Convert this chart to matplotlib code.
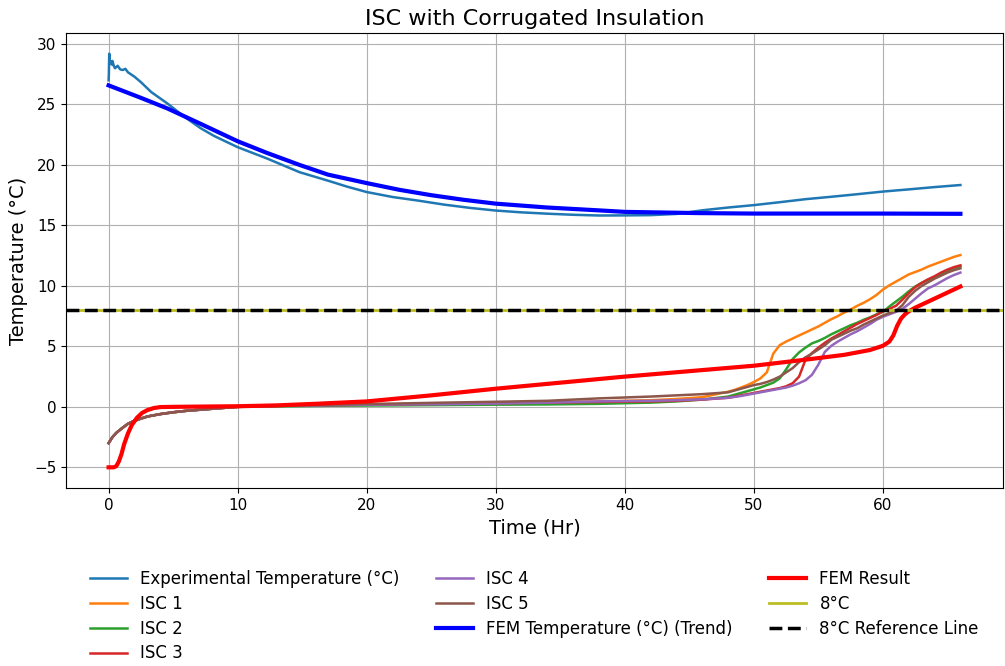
import matplotlib
matplotlib.use("Agg")
import matplotlib.pyplot as plt

# ---------------- data ----------------
exp_time = [0, 0.02, 0.05, 0.1, 0.15, 0.25, 0.3, 0.4, 0.5, 0.7, 0.9, 1.1, 1.3, 1.5,
            2.0, 2.5, 3.3, 4.56, 5.85, 7.13, 8.17, 10, 12.26, 14.8, 17, 18.5, 20, 22,
            24, 26, 28, 30, 32, 34, 36, 38, 40, 42, 44, 46, 48, 50, 52, 54, 56, 58,
            60, 62, 64, 66]
exp_temp = [27.0, 27.5, 29.2, 28.4, 28.6, 28.3, 28.6, 28.2, 28.0, 28.2, 27.9, 27.85,
            27.95, 27.66, 27.3, 26.85, 26.03, 25.08, 24.0, 23.04, 22.4, 21.47, 20.54,
            19.4, 18.7, 18.2, 17.76, 17.35, 17.05, 16.72, 16.45, 16.23, 16.08, 15.97,
            15.88, 15.82, 15.83, 15.85, 15.95, 16.25, 16.48, 16.68, 16.92, 17.17,
            17.37, 17.58, 17.8, 17.98, 18.17, 18.34]

isc_time = [0, 0.3, 0.6, 1, 1.5, 2, 3, 4, 5, 6, 8, 10, 14, 18, 22, 26, 30, 34, 38,
            42, 44, 46, 48, 48.5, 49, 49.5, 50, 50.5, 51, 51.5, 52, 52.5, 53, 53.5,
            54, 54.5, 55, 55.5, 56, 56.5, 57, 57.5, 58, 58.5, 59, 59.5, 60, 60.5, 61,
            61.5, 62, 62.5, 63, 63.5, 64, 64.5, 65, 65.5, 66]
isc_start = [-3.0, -2.5, -2.15, -1.8, -1.4, -1.15, -0.8, -0.6, -0.45, -0.33, -0.16, 0.0]

isc1 = isc_start + [0.1, 0.15, 0.2, 0.25, 0.3, 0.35, 0.45, 0.55, 0.65, 0.8,
        1.25, 1.4, 1.6, 1.8, 2.05, 2.35, 2.85, 4.4, 5.1, 5.4, 5.65, 5.9, 6.15, 6.4,
        6.65, 6.95, 7.25, 7.5, 7.8, 8.05, 8.35, 8.6, 8.9, 9.25, 9.7, 10.05, 10.35,
        10.65, 10.95, 11.15, 11.35, 11.6, 11.8, 12.0, 12.2, 12.4, 12.55]
isc2 = isc_start + [0.05, 0.1, 0.12, 0.15, 0.18, 0.2, 0.25, 0.35, 0.45, 0.6,
        0.85, 1.0, 1.15, 1.3, 1.45, 1.6, 1.8, 2.0, 2.35, 3.1, 3.95, 4.5, 4.9, 5.25,
        5.45, 5.7, 6.0, 6.25, 6.5, 6.75, 6.95, 7.2, 7.4, 7.65, 7.85, 8.3, 8.7, 9.1,
        9.55, 9.95, 10.25, 10.5, 10.7, 10.95, 11.2, 11.45, 11.6]
isc3 = isc_start + [0.1, 0.15, 0.2, 0.25, 0.3, 0.35, 0.4, 0.45, 0.5, 0.6,
        0.75, 0.85, 0.95, 1.05, 1.15, 1.25, 1.35, 1.45, 1.55, 1.7, 1.95, 2.5, 3.9,
        4.45, 4.9, 5.3, 5.65, 5.95, 6.25, 6.55, 6.85, 7.1, 7.35, 7.6, 7.9, 8.1, 8.35,
        8.85, 9.4, 9.9, 10.25, 10.55, 10.8, 11.1, 11.35, 11.55, 11.7]
isc4 = isc_start + [0.1, 0.15, 0.2, 0.22, 0.28, 0.35, 0.45, 0.5, 0.55, 0.62,
        0.75, 0.82, 0.9, 1.0, 1.1, 1.2, 1.3, 1.4, 1.5, 1.6, 1.75, 1.95, 2.2, 2.65,
        3.5, 4.55, 5.05, 5.4, 5.7, 6.0, 6.25, 6.55, 6.85, 7.2, 7.45, 7.65, 7.85, 8.1,
        8.5, 8.95, 9.4, 9.8, 10.05, 10.35, 10.65, 10.9, 11.1]
isc5 = isc_start + [0.12, 0.2, 0.27, 0.35, 0.42, 0.5, 0.7, 0.85, 0.95, 1.05,
        1.2, 1.35, 1.5, 1.65, 1.8, 1.9, 2.05, 2.25, 2.5, 2.85, 3.2, 3.7, 4.1, 4.4,
        4.75, 5.1, 5.55, 5.8, 6.05, 6.3, 6.5, 6.8, 7.05, 7.3, 7.55, 7.75, 7.95, 8.4,
        9.1, 9.6, 10.0, 10.3, 10.6, 10.85, 11.1, 11.3, 11.45]

trend_time = [0, 2.5, 4.56, 7.13, 10, 12.26, 14.8, 17, 20, 22.5, 25, 27.5, 30, 34,
              37.9, 40, 45.7, 50, 55, 60, 66]
trend_temp = [26.58, 25.55, 24.67, 23.4, 21.96, 21.0, 20.0, 19.2, 18.5, 17.95, 17.5,
              17.12, 16.8, 16.48, 16.25, 16.12, 16.02, 15.98, 15.98, 15.98, 15.96]

fem_time = [0, 0.4, 0.6, 0.8, 1.0, 1.2, 1.5, 1.8, 2.2, 2.6, 3.0, 3.5, 4.0, 5, 7, 10,
            13, 16, 20, 25, 30, 35, 40, 45, 50, 54, 57, 59, 60, 60.5, 60.8, 61.1,
            61.4, 61.7, 62, 62.5, 63, 64, 65, 66]
fem_temp = [-5.0, -5.0, -4.9, -4.5, -3.9, -3.1, -2.2, -1.5, -0.9, -0.5, -0.27, -0.1,
            -0.02, 0.0, 0.02, 0.05, 0.12, 0.25, 0.45, 0.95, 1.5, 2.0, 2.5, 2.95, 3.4,
            3.9, 4.3, 4.7, 5.05, 5.4, 5.9, 6.7, 7.3, 7.65, 7.9, 8.2, 8.45, 8.95, 9.45,
            9.95]

ref_temp = 8

# ---------------- plot ----------------
fig = plt.figure(figsize=(10.05, 6.66), dpi=100)
ax = fig.add_axes([66/1005, 1-488/666, (1003-66)/1005, (488-33)/666])

ax.plot(exp_time, exp_temp, color='tab:blue', lw=1.8, label='Experimental Temperature (°C)')
ax.plot(isc_time, isc1, color='tab:orange', lw=1.8, label='ISC 1')
ax.plot(isc_time, isc2, color='tab:green', lw=1.8, label='ISC 2')
ax.plot(isc_time, isc3, color='tab:red', lw=1.8, label='ISC 3')
ax.plot(isc_time, isc4, color='tab:purple', lw=1.8, label='ISC 4')
ax.plot(isc_time, isc5, color='tab:brown', lw=1.8, label='ISC 5')
ax.plot(trend_time, trend_temp, color='blue', lw=3, label='FEM Temperature (°C) (Trend)')
ax.plot(fem_time, fem_temp, color='red', lw=3, label='FEM Result')
ax.axhline(ref_temp, color='tab:olive', lw=2, label='8°C')
ax.axhline(ref_temp, color='black', lw=2.5, ls='--', label='8°C Reference Line')

ax.set_title('ISC with Corrugated Insulation', fontsize=16)
ax.set_xlabel('Time (Hr)', fontsize=14)
ax.set_ylabel('Temperature (°C)', fontsize=14)
ax.tick_params(labelsize=11)
ax.grid(True)

ax.legend(loc='upper center', bbox_to_anchor=(0.5, -0.147), ncol=3, frameon=False,
          fontsize=12, labelspacing=0.41, handlelength=2.2, columnspacing=2.2)

fig.savefig('out.png', dpi=100)
